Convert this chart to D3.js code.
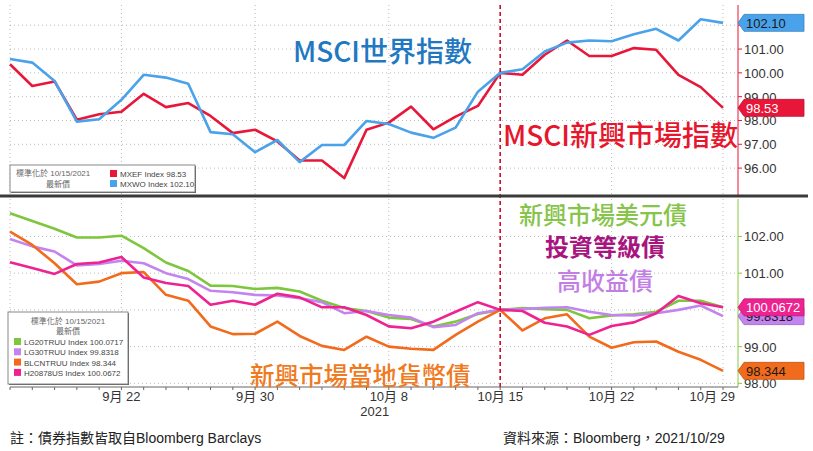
<!DOCTYPE html>
<html>
<head>
<meta charset="utf-8">
<script src="https://cdn.jsdelivr.net/npm/d3@7"></script>
<style>
  body { margin: 0; background: #fff; }
  text { font-family: "Liberation Sans", "Noto Sans CJK TC", sans-serif; }
  .cjk { font-family: "Noto Sans CJK TC", sans-serif; }
</style>
</head>
<body>
<div id="chart"></div>
<script>
// trading days 2021/9/15 - 2021/10/29
var dates = ["9/15","9/16","9/17","9/20","9/21","9/22","9/23","9/24","9/27","9/28","9/29","9/30",
  "10/1","10/4","10/5","10/6","10/7","10/8","10/11","10/12","10/13","10/14","10/15",
  "10/18","10/19","10/20","10/21","10/22","10/25","10/26","10/27","10/28","10/29"];

// top panel: MSCI indexes, normalized to 10/15/2021
var mxwo = [100.58,100.43,99.66,97.95,98.05,98.87,99.92,99.80,99.54,97.51,97.42,96.67,97.18,96.25,96.97,96.97,97.98,97.85,
  97.49,97.27,97.70,99.21,100.00,100.15,100.90,101.27,101.36,101.33,101.62,101.85,101.36,102.25,102.10];
var mxef = [100.36,99.45,99.64,98.03,98.26,98.37,99.12,98.56,98.73,98.19,97.47,97.61,97.12,96.32,96.32,95.58,97.61,97.91,
  98.58,97.63,98.16,98.61,100.00,99.92,100.76,101.36,100.71,100.71,101.04,100.97,99.92,99.40,98.53];

// bottom panel: bond indexes, normalized to 10/15/2021
var lg20 = [102.63,102.42,102.21,101.97,101.97,102.02,101.68,101.29,101.06,100.66,100.65,100.57,100.60,100.50,100.25,100.05,99.97,99.79,
  99.75,99.55,99.68,99.89,100.00,100.05,100.02,100.00,99.77,99.85,99.88,99.95,100.25,100.25,100.07];
var lg30 = [101.93,101.73,101.59,101.21,101.25,101.34,101.27,101.00,100.84,100.52,100.48,100.41,100.39,100.32,100.21,99.91,99.97,99.86,
  99.79,99.53,99.59,99.91,100.00,100.02,100.06,100.07,99.95,99.86,99.85,99.91,100.00,100.12,99.83];
var blcn = [102.13,101.77,101.27,100.70,100.77,101.00,101.03,100.41,100.25,99.55,99.34,99.35,99.68,99.29,99.02,98.91,99.27,99.00,
  98.94,98.91,99.32,99.68,100.00,99.44,99.77,99.88,99.27,98.97,99.12,99.14,98.86,98.64,98.34];
var h208 = [101.30,101.14,100.98,101.25,101.29,101.44,100.88,100.73,100.65,100.14,100.25,100.14,100.44,100.34,100.07,100.07,99.86,99.55,
  99.50,99.68,99.95,100.21,100.00,99.97,99.65,99.55,99.32,99.56,99.66,99.91,100.38,100.18,100.07];

var topTicks = [96, 97, 98, 99, 100, 101, 102];
var bottomTicks = [98, 99, 100, 101, 102];
// tick labels that sit fully under a value tag are not shown
var topHidden = [102];
var bottomHidden = [100];
var dateLabels = ["9/22","9/30","10/8","10/15","10/22","10/29"];
var dateText = ["9月 22","9月 30","10月 8","10月 15","10月 22","10月 29"];
var gridDates = ["9/15","9/22","9/30","10/8","10/22","10/29"];
var baseDate = "10/15";

var topSeries = [
  {name: "MXWO Index", last: "102.10", data: mxwo, color: "#4aa3ea", tagText: "#1a1a1a"},
  {name: "MXEF Index", last: "98.53", data: mxef, color: "#e8173a", tagText: "#fff"}
];
var bottomSeries = [
  {name: "LG20TRUU Index", last: "100.0717", data: lg20, color: "#7dc63e", tag: false},
  {name: "LG30TRUU Index", last: "99.8318", data: lg30, color: "#c384f0", tag: true, tagText: "#1a1a1a"},
  {name: "BLCNTRUU Index", last: "98.344", data: blcn, color: "#f26a1b", tag: true, tagText: "#1a1a1a"},
  {name: "H20878US Index", last: "100.0672", data: h208, color: "#ee2290", tag: true, tagText: "#fff"}
];

var width = 813, height = 451;
var axisX = 738;

var svg = d3.select("#chart").append("svg")
  .attr("width", width)
  .attr("height", height);

var x = d3.scalePoint().domain(dates).range([10, 723]);
var yTop = d3.scaleLinear().domain([94.87, 102.85]).range([195, 5]);
var yBot = d3.scaleLinear().domain([97.9, 103.02]).range([387, 199]);

// draw one panel
function panel(y, ticks, hidden, series, axisColor, y0, y1) {
  var g = svg.append("g");

  // horizontal grid
  g.selectAll(".hgrid").data(ticks).enter().append("line")
    .attr("x1", 10).attr("x2", axisX)
    .attr("y1", d => y(d)).attr("y2", d => y(d))
    .style("stroke", "#bbb").style("stroke-dasharray", "1,3");

  // vertical grid
  g.selectAll(".vgrid").data(gridDates).enter().append("line")
    .attr("x1", d => x(d)).attr("x2", d => x(d))
    .attr("y1", y0).attr("y2", y1)
    .style("stroke", "#bbb").style("stroke-dasharray", "1,3");

  // right axis
  g.append("line")
    .attr("x1", axisX).attr("x2", axisX).attr("y1", y0).attr("y2", y1)
    .style("stroke", axisColor).style("stroke-width", 1);
  g.selectAll(".tk").data(ticks).enter().append("line")
    .attr("x1", axisX).attr("x2", axisX + 4)
    .attr("y1", d => y(d)).attr("y2", d => y(d))
    .style("stroke", axisColor);
  g.selectAll(".tl").data(ticks.filter(d => hidden.indexOf(d) < 0)).enter().append("text")
    .attr("x", axisX + 6).attr("y", d => y(d) + 5)
    .style("font-size", "13px").style("fill", "#333")
    .text(d => d.toFixed(2));

  // lines
  var line = d3.line().x((d, i) => x(dates[i])).y(d => y(d));
  series.forEach(function (s) {
    g.append("path")
      .datum(s.data)
      .attr("d", line)
      .style("fill", "none")
      .style("stroke", s.color)
      .style("stroke-width", 2.6)
      .style("stroke-linejoin", "round");
  });
  return g;
}

function tag(s, y) {
  var v = s.data[s.data.length - 1];
  var cy = y(v);
  var g = svg.append("g").attr("transform", "translate(" + axisX + "," + cy + ")");
  g.append("path")
    .attr("d", "M0,0 L6,-8.5 L66,-8.5 L66,8.5 L6,8.5 Z")
    .style("fill", s.color)
    .style("stroke", d3.color(s.color).darker(0.6))
    .style("stroke-width", 0.8);
  g.append("text")
    .attr("x", 8).attr("y", 5)
    .style("font-size", "13px").style("fill", s.tagText)
    .text(s.last);
}

panel(yTop, topTicks, topHidden, topSeries.slice().reverse(), "#e8173a", 5, 195);
panel(yBot, bottomTicks, bottomHidden, bottomSeries, "#8cc63f", 199, 387);

// dashed line at normalization date
svg.append("line")
  .attr("x1", x(baseDate)).attr("x2", x(baseDate))
  .attr("y1", 5).attr("y2", 387)
  .style("stroke", "#c8102e").style("stroke-width", 1.6)
  .style("stroke-dasharray", "4,3");

// separator between panels
svg.append("line")
  .attr("x1", 0).attr("x2", 808).attr("y1", 196).attr("y2", 196)
  .style("stroke", "#3a3a3a").style("stroke-width", 3);

// value tags
topSeries.forEach(s => tag(s, yTop));
tag(bottomSeries[2], yBot);
tag(bottomSeries[1], yBot);
tag(bottomSeries[3], yBot);

// x axis
svg.append("line")
  .attr("x1", 10).attr("x2", axisX).attr("y1", 387).attr("y2", 387)
  .style("stroke", "#666");
svg.selectAll(".xtick").data(dates).enter().append("line")
  .attr("x1", d => x(d)).attr("x2", d => x(d))
  .attr("y1", 387).attr("y2", 390)
  .style("stroke", "#666");
svg.selectAll(".xlab").data(dateLabels).enter().append("text")
  .attr("x", (d, i) => i == dateLabels.length - 1 ? x(d) + 12 : x(d))
  .attr("y", 401)
  .attr("text-anchor", (d, i) => i == dateLabels.length - 1 ? "end" : "middle")
  .style("font-size", "13px").style("fill", "#333")
  .text((d, i) => dateText[i]);
svg.append("text")
  .attr("x", x("10/8") - 14).attr("y", 416)
  .attr("text-anchor", "middle")
  .style("font-size", "13px").style("fill", "#333")
  .text("2021");

// legend box with shadow
function legend(x0, y0, w, h) {
  var g = svg.append("g");
  g.append("rect")
    .attr("x", x0 + 1).attr("y", y0 + 1).attr("width", w).attr("height", h)
    .style("fill", "#555");
  g.append("rect")
    .attr("x", x0).attr("y", y0).attr("width", w).attr("height", h)
    .style("fill", "#fff").style("stroke", "#888");
  return g;
}

var lt = legend(10, 165, 185, 27);
lt.append("text").attr("x", 16).attr("y", 176)
  .style("font-size", "8px").style("fill", "#666").text("標準化於 10/15/2021");
lt.append("text").attr("x", 58).attr("y", 187).attr("text-anchor", "middle")
  .style("font-size", "8px").style("fill", "#666").text("最新價");
[topSeries[1], topSeries[0]].forEach(function (s, i) {
  lt.append("rect").attr("x", 110).attr("y", 170 + i * 10).attr("width", 7).attr("height", 7)
    .style("fill", s.color);
  lt.append("text").attr("x", 120).attr("y", 177 + i * 10)
    .style("font-size", "8px").style("fill", "#444")
    .text(s.name + "  " + s.last);
});

var lb = legend(8, 312, 120, 72);
lb.append("text").attr("x", 68).attr("y", 324).attr("text-anchor", "middle")
  .style("font-size", "8px").style("fill", "#666").text("標準化於 10/15/2021");
lb.append("text").attr("x", 68).attr("y", 334).attr("text-anchor", "middle")
  .style("font-size", "8px").style("fill", "#666").text("最新價");
bottomSeries.forEach(function (s, i) {
  lb.append("rect").attr("x", 14).attr("y", 338 + i * 10.3).attr("width", 7).attr("height", 7)
    .style("fill", s.color);
  lb.append("text").attr("x", 24).attr("y", 345 + i * 10.3)
    .style("font-size", "8px").style("fill", "#444")
    .text(s.name + "  " + s.last);
});

// annotations
var notes = [
  {t: "MSCI世界指數", x: 293, y: 62, size: 28, color: "#1f78c1", w: 500},
  {t: "MSCI新興市場指數", x: 503, y: 146, size: 28, color: "#e6162d", w: 500},
  {t: "新興市場美元債", x: 519, y: 224, size: 24, color: "#86c44a", w: 500},
  {t: "投資等級債", x: 545, y: 256, size: 24, color: "#a8157f", w: 700},
  {t: "高收益債", x: 557, y: 290, size: 24, color: "#c37ee6", w: 500},
  {t: "新興市場當地貨幣債", x: 250, y: 385, size: 24.5, color: "#f07a1e", w: 500}
];
svg.selectAll(".note").data(notes).enter().append("text")
  .attr("class", "cjk")
  .attr("x", d => d.x).attr("y", d => d.y)
  .style("font-size", d => d.size + "px")
  .style("font-weight", d => d.w)
  .style("fill", d => d.color)
  .text(d => d.t);

// footer
svg.append("text").attr("x", 10).attr("y", 443)
  .style("font-size", "14px").style("fill", "#222")
  .text("註：債券指數皆取自Bloomberg Barclays");
svg.append("text").attr("x", 503).attr("y", 443)
  .style("font-size", "14px").style("fill", "#222")
  .text("資料來源：Bloomberg，2021/10/29");
</script>
</body>
</html>
